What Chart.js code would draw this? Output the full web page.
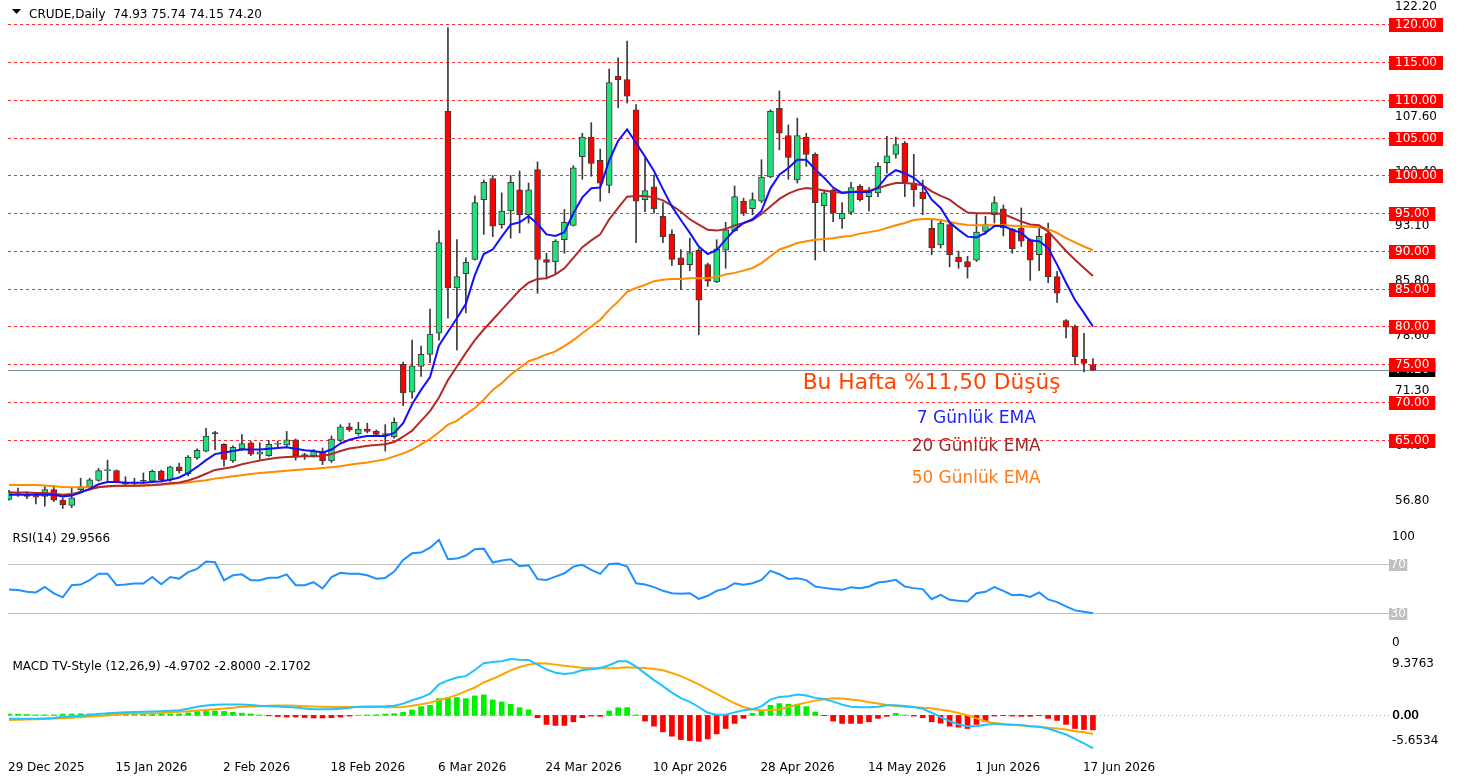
<!DOCTYPE html>
<html>
<head>
<meta charset="utf-8">
<title>CRUDE Daily</title>
<script src="https://cdn.jsdelivr.net/npm/chart.js@4.4.1/dist/chart.umd.min.js"></script>
<style>
  html, body { margin:0; padding:0; background:#ffffff; }
  #wrap { position:relative; width:1469px; height:780px; overflow:hidden; background:#ffffff; }
  #wrap canvas { position:absolute; left:0; top:0; }
</style>
</head>
<body>
<div id="wrap">
  <canvas id="mainChart" width="1469" height="780"></canvas>
  <canvas id="rsiChart" width="1469" height="780"></canvas>
  <canvas id="macdChart" width="1469" height="780"></canvas>
</div>
<script>
// ---------------- DATA ----------------
const symbolTitle = 'CRUDE,Daily';
const lastOHLC = ['74.93', '75.74', '74.15', '74.20'];
const rsiTitle = 'RSI(14) 29.9566';
const macdTitle = 'MACD TV-Style (12,26,9) -4.9702 -2.8000 -2.1702';

const xTickLabels = ['29 Dec 2025','15 Jan 2026','2 Feb 2026','18 Feb 2026','6 Mar 2026','24 Mar 2026','10 Apr 2026','28 Apr 2026','14 May 2026','1 Jun 2026','17 Jun 2026'];
const xTickBars = [0,12,24,36,48,60,72,84,96,108,120];

const open = [57.1,58.0,57.8,57.6,57.5,58.4,57.0,56.3,58.4,58.8, 59.6,60.9,60.9,59.4,59.2,59.5,59.5,60.8,59.7,61.4, 60.5,62.6,63.5,65.8,64.4,62.2,63.8,64.6,63.1,62.9, 64.4,64.3,65.0,62.9,62.9,63.4,62.2,64.9,66.7,65.8, 66.4,66.1,65.7,65.4,75.0,71.3,74.7,76.3,79.1,108.5, 85.1,87.0,88.9,96.8,99.6,93.5,95.3,98.1,94.8,100.8, 88.85,88.6,91.5,93.4,102.5,105.1,102.0,98.7,113.15,112.7, 108.7,96.8,98.5,94.6,92.2,89.1,88.2,90.1,88.2,85.9, 90.1,92.7,96.6,95.6,96.6,99.8,108.9,105.3,99.4,105.1, 102.8,96.0,98.1,94.25,95.1,98.6,97.2,97.7,101.7,102.8, 104.3,99.0,97.8,93.0,90.8,93.5,89.2,88.6,88.8,92.6, 94.8,95.6,92.9,93.05,91.5,89.5,92.3,86.6,80.8,80.0, 75.7,74.93];
const high = [58.3,58.6,58.1,58.0,58.8,58.9,57.3,58.6,59.9,59.9, 61.2,62.3,61.0,60.1,59.9,60.6,61.0,61.0,61.5,61.9, 62.9,63.8,66.5,66.1,64.5,64.2,65.7,64.8,64.6,64.9, 64.8,66.1,65.1,63.2,63.7,63.9,65.5,67.0,67.2,67.3, 67.2,66.3,67.0,67.9,75.3,78.2,77.4,82.3,92.7,119.6, 91.5,89.1,97.3,99.4,100.0,97.7,100.0,100.6,99.0,101.8, 89.7,91.5,95.5,101.3,105.6,107.0,103.5,114.1,115.6,117.8, 109.4,102.3,100.1,96.4,92.8,90.2,91.7,90.3,88.4,91.5, 93.8,98.6,97.0,97.7,102.1,108.7,111.2,106.7,107.6,105.6, 103.0,97.9,98.2,96.4,99.1,98.8,98.4,101.7,105.2,105.1, 104.5,102.8,99.4,94.2,94.2,93.9,90.0,89.3,95.0,94.6, 97.2,96.1,93.0,95.7,91.6,93.0,93.7,87.3,80.9,80.2, 79.1,75.74];
const low = [57.0,57.5,57.2,56.5,56.2,56.8,55.9,56.0,58.1,58.7, 59.5,59.5,59.3,59.0,59.0,59.2,59.3,59.4,59.5,60.6, 60.2,62.4,63.4,63.7,61.5,62.0,63.6,62.9,62.4,62.8, 64.0,64.1,62.3,62.4,62.7,61.7,62.0,64.7,66.1,65.6, 65.9,65.5,63.5,65.2,69.5,70.5,73.4,75.2,78.2,81.1, 76.9,81.8,88.8,92.2,91.9,93.0,91.7,92.4,93.7,84.4, 86.3,86.9,89.7,93.3,99.5,99.9,96.6,97.7,109.0,109.6, 91.1,95.2,95.0,91.1,88.1,84.9,87.4,78.9,85.3,85.8, 87.7,92.6,94.7,94.8,96.4,99.7,103.4,99.5,99.0,101.2, 88.8,90.0,93.9,93.0,94.8,96.6,95.3,97.2,100.3,102.3, 97.2,95.9,94.8,89.5,90.4,87.9,87.7,86.4,88.6,92.2, 93.7,92.0,89.7,90.6,86.1,87.4,85.8,83.2,78.5,74.9, 74.0,74.15];
const close = [58.1,57.9,57.5,57.4,58.4,57.0,56.4,57.3,58.8,59.7, 60.9,61.0,59.4,59.1,59.4,59.5,60.8,59.7,61.4,60.9, 62.7,63.6,65.5,65.8,62.4,64.0,64.5,63.1,63.4,64.4, 64.5,65.0,62.9,62.9,63.5,62.2,65.1,66.7,66.3,66.4, 66.1,65.7,65.7,67.3,71.2,74.8,76.3,79.0,91.1,85.1, 86.6,88.5,96.4,99.1,93.3,95.3,99.1,94.8,98.1,88.9, 88.5,91.3,93.8,101.0,105.1,101.6,99.0,112.3,112.7,110.5, 96.6,98.0,95.6,91.9,88.9,88.2,89.8,83.5,86.0,90.3, 92.8,97.2,95.0,96.8,99.8,108.5,105.6,102.4,105.3,102.8, 96.4,97.7,95.0,95.0,98.4,96.8,97.8,101.2,102.6,104.1, 99.1,98.1,96.9,90.4,93.7,89.5,88.6,87.9,92.5,93.5, 96.4,93.05,90.3,91.3,88.8,91.95,86.6,84.4,79.9,76.0, 75.1,74.20];

const ema7 = [57.7,57.7,57.7,57.7,57.7,57.7,57.5,57.6,58.0,58.5, 59.1,59.4,59.4,59.3,59.3,59.3,59.4,59.5,59.7,60.0, 60.6,61.4,62.3,63.1,63.3,63.5,63.7,63.7,63.7,63.8, 63.9,64.0,63.8,63.6,63.5,63.3,63.7,64.5,65.0,65.3, 65.5,65.5,65.5,65.9,67.2,69.7,71.6,73.3,77.5,79.3, 81.1,83.0,86.8,89.6,90.2,91.9,93.5,93.8,94.6,93.6, 92.2,92.0,92.5,95.0,97.1,98.3,98.4,102.0,104.6,106.1, 104.3,102.5,100.6,98.2,95.9,94.1,92.4,90.6,89.6,90.1, 91.5,92.8,93.7,94.2,95.3,98.3,100.1,101.0,102.1,102.1, 100.8,99.7,98.4,97.7,97.8,97.8,97.8,98.4,99.9,100.7, 100.3,99.7,98.7,96.8,95.7,93.8,92.8,91.9,91.8,92.4, 93.3,93.3,92.8,92.4,91.4,91.3,90.4,88.2,85.8,83.5, 81.8,80.0];
const ema20 = [58.0,58.0,58.0,57.95,57.95,57.85,57.7,57.8,58.1,58.4, 58.7,58.85,58.9,58.9,58.9,58.95,59.0,59.1,59.25,59.35, 59.6,60.0,60.5,61.0,61.2,61.4,61.75,62.0,62.25,62.45, 62.6,62.7,62.75,62.8,62.8,62.85,63.1,63.5,63.85,64.0, 64.2,64.3,64.4,64.7,65.4,66.2,67.5,68.8,70.6,72.9, 74.7,76.5,78.2,79.6,80.9,82.2,83.5,84.8,85.8,86.3, 86.4,86.9,87.7,89.1,90.5,91.4,92.2,94.2,95.7,97.2, 97.3,97.3,97.1,96.7,96.0,95.2,94.2,93.5,92.8,92.7, 92.9,93.4,93.7,94.1,94.9,95.9,96.9,97.6,98.1,98.35, 98.2,98.0,97.8,97.7,97.8,97.9,98.0,98.3,98.7,99.0, 99.0,98.9,98.7,97.9,97.3,96.8,95.9,95.1,95.0,95.0, 95.0,94.9,94.4,93.9,93.5,93.4,92.6,91.3,90.0,88.85, 87.75,86.7];
const ema50 = [59.0,59.0,59.0,59.0,58.95,58.85,58.75,58.72,58.72,58.72, 58.75,58.8,58.85,58.9,58.92,58.95,58.97,59.05,59.15,59.25, 59.35,59.5,59.65,59.85,60.0,60.15,60.3,60.45,60.6,60.7, 60.8,60.9,61.0,61.1,61.15,61.25,61.35,61.5,61.7,61.85, 62.0,62.2,62.4,62.8,63.2,63.7,64.4,65.1,66.0,67.0, 67.5,68.4,69.2,70.3,71.6,72.5,73.6,74.5,75.4,75.8, 76.3,76.7,77.4,78.2,79.1,80.0,80.9,82.2,83.3,84.6, 85.1,85.5,86.0,86.2,86.3,86.3,86.4,86.4,86.4,86.55, 86.9,87.1,87.4,87.75,88.4,89.3,90.2,90.6,91.05,91.3, 91.5,91.6,91.7,91.9,92.0,92.3,92.5,92.7,93.05,93.4, 93.7,94.1,94.25,94.25,94.1,93.85,93.6,93.45,93.4,93.4, 93.4,93.4,93.35,93.3,93.2,93.15,92.9,92.4,91.7,91.15, 90.6,90.1];

const rsi14 = [49.2,48.7,47.3,46.8,51.3,46.0,42.8,52.7,53.2,56.7, 62.0,62.0,52.7,53.2,54.0,54.0,59.3,53.5,59.3,58.0, 63.3,66.0,71.9,71.3,56.7,60.7,61.5,56.7,56.7,58.8, 58.8,61.5,52.7,52.7,55.1,50.0,59.3,62.8,62.0,62.0, 60.7,58.0,58.6,63.8,73.2,78.6,79.2,83.2,89.5,73.8, 74.3,76.8,81.9,82.4,71.1,72.7,73.8,68.1,68.9,57.6, 57.0,59.7,62.4,67.8,69.2,65.1,61.9,70.0,70.3,67.8, 54.3,53.2,51.1,48.1,46.2,45.7,46.2,41.6,44.1,48.1, 50.0,54.3,53.0,54.3,57.0,64.3,61.6,57.8,58.4,56.8, 51.6,50.5,49.5,48.9,51.1,50.3,51.6,54.9,55.7,57.0, 51.6,50.3,49.5,41.3,44.9,40.8,40.0,39.5,46.2,47.3, 51.1,48.1,44.6,44.9,43.2,46.8,41.1,38.9,35.4,32.2, 31.1,29.96];

const macdLine = [-0.5,-0.5,-0.5,-0.5,-0.45,-0.4,-0.22,-0.15,-0.05,0.05, 0.22,0.32,0.4,0.46,0.5,0.54,0.58,0.63,0.7,0.78, 1.0,1.3,1.5,1.6,1.62,1.62,1.62,1.55,1.45,1.38, 1.33,1.25,1.18,1.05,0.93,0.91,0.91,1.0,1.16,1.28, 1.32,1.35,1.36,1.46,1.77,2.27,2.68,3.28,4.65,5.25, 5.7,5.9,6.82,7.83,8.03,8.13,8.48,8.38,8.33,7.63, 6.92,6.41,6.21,6.36,6.82,6.92,7.12,7.53,8.13,8.13, 7.32,6.31,5.3,4.39,3.43,2.58,2.02,1.26,0.4,0.1, 0.1,0.45,0.76,0.91,1.36,2.37,2.78,2.88,3.13,2.98, 2.63,2.47,2.07,1.62,1.31,1.21,1.21,1.31,1.51,1.51, 1.41,1.26,1.01,0.4,-0.25,-0.86,-1.36,-1.62,-1.62,-1.41, -1.26,-1.36,-1.41,-1.46,-1.62,-1.72,-1.97,-2.42,-2.88,-3.54, -4.19,-4.97];
const macdSignal = [-0.71,-0.67,-0.63,-0.58,-0.53,-0.48,-0.42,-0.36,-0.29,-0.17, -0.1,0.0,0.12,0.24,0.28,0.3,0.33,0.37,0.48,0.55, 0.62,0.73,0.82,0.92,1.02,1.16,1.28,1.33,1.39,1.44, 1.5,1.5,1.43,1.37,1.32,1.3,1.26,1.26,1.26,1.26, 1.26,1.25,1.22,1.23,1.27,1.46,1.67,1.92,2.27,2.63, 3.08,3.64,4.19,4.95,5.5,6.11,6.77,7.27,7.63,7.83, 7.78,7.63,7.47,7.32,7.17,7.07,7.07,7.07,7.12,7.22, 7.17,7.12,6.97,6.77,6.36,5.91,5.3,4.65,3.94,3.23, 2.53,1.82,1.26,0.91,0.76,0.81,0.91,1.26,1.62,1.92, 2.22,2.42,2.58,2.53,2.37,2.22,1.97,1.77,1.57,1.41, 1.31,1.26,1.16,1.06,0.86,0.66,0.35,0.0,-0.45,-0.86, -1.16,-1.31,-1.41,-1.51,-1.62,-1.72,-1.87,-1.97,-2.12,-2.37, -2.53,-2.8];
const macdHist = [0.2,0.17,0.13,0.08,0.08,0.08,0.2,0.21,0.24,0.22, 0.32,0.32,0.28,0.22,0.22,0.24,0.25,0.26,0.22,0.23, 0.38,0.57,0.68,0.68,0.6,0.46,0.34,0.22,0.06,-0.06, -0.17,-0.25,-0.25,-0.32,-0.39,-0.39,-0.35,-0.26,-0.1,0.02, 0.06,0.1,0.2,0.25,0.45,0.81,1.31,1.51,2.52,2.68, 2.68,2.52,2.93,3.08,2.32,2.02,1.67,1.16,0.81,-0.35, -1.36,-1.51,-1.51,-0.96,-0.35,-0.1,-0.15,0.66,1.16,1.16, 0.08,-0.86,-1.62,-2.47,-3.13,-3.64,-3.79,-3.89,-3.54,-2.78, -1.97,-1.21,-0.45,0.3,0.66,1.51,1.77,1.67,1.67,1.31, 0.5,-0.05,-0.86,-1.21,-1.21,-1.21,-0.96,-0.45,-0.15,0.3, 0.05,-0.1,-0.35,-0.96,-1.16,-1.62,-1.77,-1.97,-1.36,-0.96, -0.1,-0.05,-0.1,-0.15,-0.15,-0.05,-0.45,-0.76,-1.36,-1.97, -2.12,-2.17];

const priceLevels = [120,115,110,105,100,95,90,85,80,75,70,65];
const priceAxisValues = [122.2,114.93,107.67,100.4,93.13,85.87,78.6,71.33,64.07,56.8];
const priceAxisText = ['122.20','114.90','107.60','100.40','93.10','85.80','78.60','71.30','64.00','56.80'];
const rsiLevels = [70,30];
const rsiAxisText = ['100','0'];
const macdAxisRange = [-5.6534, 9.3763];

const noteTitle = 'Bu Hafta %11,50 Düşüş';
const noteEma = ['7 Günlük EMA','20 Günlük EMA','50 Günlük EMA'];

// ---------------- LAYOUT / STYLE ----------------
const FONT_FAMILY = '"DejaVu Sans", Verdana, Tahoma, sans-serif';
const FONT = '12px ' + FONT_FAMILY;
const PLOT_LEFT = 8, PLOT_RIGHT = 1383, LABEL_X = 1389;
const X_MIN = -0.1116, X_MAX = 153.38;
const GREEN = '#1fe07b', RED = '#ff0000', DOJI = '#202020', OUTLINE = '#3c3c3c';

const idx = close.map((_, i) => i);
const pts = arr => arr.map((v, i) => ({x: i, y: v}));

function baseOptions(padTop, padBottom, yMin, yMax) {
  return {
    responsive: false,
    animation: false,
    devicePixelRatio: 1,
    layout: {padding: {left: PLOT_LEFT, right: 1469 - PLOT_RIGHT, top: padTop, bottom: padBottom}},
    plugins: {legend: {display: false}, tooltip: {enabled: false}},
    datasets: {bar: {grouped: false}},
    scales: {
      x: {type: 'linear', min: X_MIN, max: X_MAX, display: false, offset: false, grid: {display: false}},
      y: {type: 'linear', min: yMin, max: yMax, display: false, grid: {display: false}}
    }
  };
}

function fitText(ctx, text, targetW, color, left, baseline) {
  ctx.font = '100px ' + FONT_FAMILY;
  const w = ctx.measureText(text).width;
  const size = 100 * targetW / w;
  ctx.font = size.toFixed(2) + 'px ' + FONT_FAMILY;
  ctx.fillStyle = color;
  ctx.textBaseline = 'alphabetic';
  ctx.textAlign = 'left';
  ctx.fillText(text, left, baseline);
}

// ---------------- MAIN PRICE CHART ----------------
const mainDeco = {
  id: 'mainDeco',
  beforeDatasetsDraw(chart) {
    const {ctx, chartArea, scales: {y}} = chart;
    ctx.save();
    ctx.lineWidth = 1;
    ctx.strokeStyle = '#ff2a2a';
    ctx.setLineDash([3, 3]);
    priceLevels.forEach(v => {
      const py = Math.round(y.getPixelForValue(v)) + 0.5;
      ctx.beginPath(); ctx.moveTo(chartArea.left, py); ctx.lineTo(LABEL_X, py); ctx.stroke();
    });
    ctx.setLineDash([]);
    const last = close[close.length - 1];
    const ly = Math.round(y.getPixelForValue(last)) + 0.5;
    ctx.strokeStyle = '#7d8ea3';
    ctx.beginPath(); ctx.moveTo(chartArea.left, ly); ctx.lineTo(LABEL_X, ly); ctx.stroke();
    ctx.restore();
  },
  afterDraw(chart) {
    const {ctx, scales: {y}} = chart;
    ctx.save();
    ctx.font = FONT; ctx.textAlign = 'left'; ctx.textBaseline = 'middle';
    // price scale labels
    ctx.fillStyle = '#000';
    priceAxisValues.forEach((v, k) => ctx.fillText(priceAxisText[k], 1395, y.getPixelForValue(v) - 1));
    // current price label
    const last = close[close.length - 1];
    const lt = last.toFixed(2);
    const ly = Math.round(y.getPixelForValue(last));
    ctx.fillStyle = '#000';
    ctx.fillRect(LABEL_X, ly - 7, ctx.measureText(lt).width + 12, 14);
    ctx.fillStyle = '#fff';
    ctx.fillText(lt, 1395, ly);
    // level labels
    priceLevels.forEach(v => {
      const t = v.toFixed(2);
      const py = Math.round(y.getPixelForValue(v));
      const w = ctx.measureText(t).width + 12;
      ctx.fillStyle = '#ff0000';
      ctx.fillRect(LABEL_X, py - 6, w, 14);
      ctx.fillStyle = '#ffffff';
      ctx.fillText(t, 1395, py + 1);
    });
    // header
    ctx.fillStyle = '#000';
    ctx.beginPath(); ctx.moveTo(12, 9); ctx.lineTo(21, 9); ctx.lineTo(16.5, 14); ctx.closePath(); ctx.fill();
    ctx.textBaseline = 'alphabetic';
    ctx.fillText(symbolTitle + '  ' + lastOHLC.join(' '), 29, 17.5);
    // annotations
    fitText(ctx, noteTitle, 258, '#ff4500', 802.7, 389.3);
    fitText(ctx, noteEma[0], 119.3, '#2424ff', 916.7, 422.7);
    fitText(ctx, noteEma[1], 129, '#9b2a2a', 911.7, 450.7);
    fitText(ctx, noteEma[2], 129, '#ff7a1a', 911.7, 483.3);
    ctx.restore();
  }
};

const bodyColors = idx.map(i => close[i] > open[i] ? GREEN : (close[i] < open[i] ? RED : DOJI));

new Chart(document.getElementById('mainChart'), {
  type: 'bar',
  data: {
    datasets: [
      {type: 'line', label: 'EMA7', data: pts(ema7), borderColor: '#1010ff', borderWidth: 2, pointRadius: 0, tension: 0, fill: false, order: 0.1},
      {type: 'line', label: 'EMA20', data: pts(ema20), borderColor: '#b22a2a', borderWidth: 2, pointRadius: 0, tension: 0, fill: false, order: 0.2},
      {type: 'line', label: 'EMA50', data: pts(ema50), borderColor: '#ff8c00', borderWidth: 2, pointRadius: 0, tension: 0, fill: false, order: 0.3},
      {type: 'bar', label: 'body', data: idx.map(i => ({x: i, y: [open[i], close[i]]})), backgroundColor: bodyColors, borderColor: OUTLINE, borderWidth: 1, borderSkipped: false, barThickness: 6, minBarLength: 1, order: 1},
      {type: 'bar', label: 'wick', data: idx.map(i => ({x: i, y: [low[i], high[i]]})), backgroundColor: '#3a3a3a', borderWidth: 0, barThickness: 1, order: 2}
    ]
  },
  options: baseOptions(0, 260, 54.37, 123.245),
  plugins: [mainDeco]
});

// ---------------- RSI ----------------
const rsiDeco = {
  id: 'rsiDeco',
  beforeDatasetsDraw(chart) {
    const {ctx, chartArea, scales: {y}} = chart;
    ctx.save();
    ctx.strokeStyle = '#c0c0c0'; ctx.lineWidth = 1;
    rsiLevels.forEach(v => {
      const py = Math.round(y.getPixelForValue(v)) + 0.5;
      ctx.beginPath(); ctx.moveTo(chartArea.left, py); ctx.lineTo(LABEL_X, py); ctx.stroke();
    });
    ctx.restore();
  },
  afterDraw(chart) {
    const {ctx, chartArea, scales: {y}} = chart;
    ctx.save();
    ctx.font = FONT; ctx.textAlign = 'left'; ctx.textBaseline = 'middle';
    ctx.fillStyle = '#000';
    ctx.fillText(rsiAxisText[0], 1392, chartArea.top + 9.5);
    ctx.fillText(rsiAxisText[1], 1392, chartArea.bottom - 7);
    rsiLevels.forEach(v => {
      const t = String(v);
      const py = Math.round(y.getPixelForValue(v));
      ctx.fillStyle = '#c0c0c0';
      ctx.fillRect(LABEL_X, py - 5, ctx.measureText(t).width + 3, 12);
      ctx.fillStyle = '#ffffff';
      ctx.fillText(t, LABEL_X + 1.5, py + 1);
    });
    ctx.fillStyle = '#000';
    ctx.textBaseline = 'alphabetic';
    ctx.fillText(rsiTitle, 12.5, 541.5);
    ctx.restore();
  }
};

new Chart(document.getElementById('rsiChart'), {
  type: 'line',
  data: {datasets: [
    {label: 'RSI', data: pts(rsi14), borderColor: '#1e90ff', borderWidth: 2, pointRadius: 0, tension: 0, fill: false}
  ]},
  options: baseOptions(527, 130, 0, 100),
  plugins: [rsiDeco]
});

// ---------------- MACD ----------------
const macdDeco = {
  id: 'macdDeco',
  beforeDatasetsDraw(chart) {
    const {ctx, chartArea, scales: {y}} = chart;
    ctx.save();
    ctx.strokeStyle = '#a8a8a8'; ctx.lineWidth = 1; ctx.setLineDash([1, 3]);
    const py = Math.round(y.getPixelForValue(0)) + 0.5;
    ctx.beginPath(); ctx.moveTo(chartArea.left, py); ctx.lineTo(LABEL_X, py); ctx.stroke();
    ctx.restore();
  },
  afterDraw(chart) {
    const {ctx, chartArea, scales: {x, y}} = chart;
    ctx.save();
    ctx.font = FONT; ctx.textAlign = 'left'; ctx.textBaseline = 'middle';
    ctx.fillStyle = '#000';
    ctx.fillText(macdAxisRange[1].toFixed(4), 1392, chartArea.top + 11);
    ctx.fillText(macdAxisRange[0].toFixed(4), 1392, chartArea.bottom - 12);
    const zy = y.getPixelForValue(0);
    ctx.fillText('0.00', 1392, zy);
    ctx.fillText('0.00', 1392.5, zy);
    ctx.textBaseline = 'alphabetic';
    ctx.fillText(macdTitle, 12.5, 670);
    // time axis
    xTickBars.forEach((b, k) => ctx.fillText(xTickLabels[k], x.getPixelForValue(b) - 1, 771));
    ctx.restore();
  }
};

new Chart(document.getElementById('macdChart'), {
  type: 'bar',
  data: {datasets: [
    {type: 'line', label: 'MACD', data: pts(macdLine), borderColor: '#1ec3ff', borderWidth: 2, pointRadius: 0, tension: 0, fill: false, order: 0},
    {type: 'line', label: 'Signal', data: pts(macdSignal), borderColor: '#ffa500', borderWidth: 2, pointRadius: 0, tension: 0, fill: false, order: 1},
    {type: 'bar', label: 'Hist', data: pts(macdHist), backgroundColor: macdHist.map(v => v >= 0 ? '#00ee00' : '#ff0000'), borderWidth: 0, barThickness: 5, order: 2}
  ]},
  options: baseOptions(653, 27, macdAxisRange[0], macdAxisRange[1]),
  plugins: [macdDeco]
});
</script>
</body>
</html>
